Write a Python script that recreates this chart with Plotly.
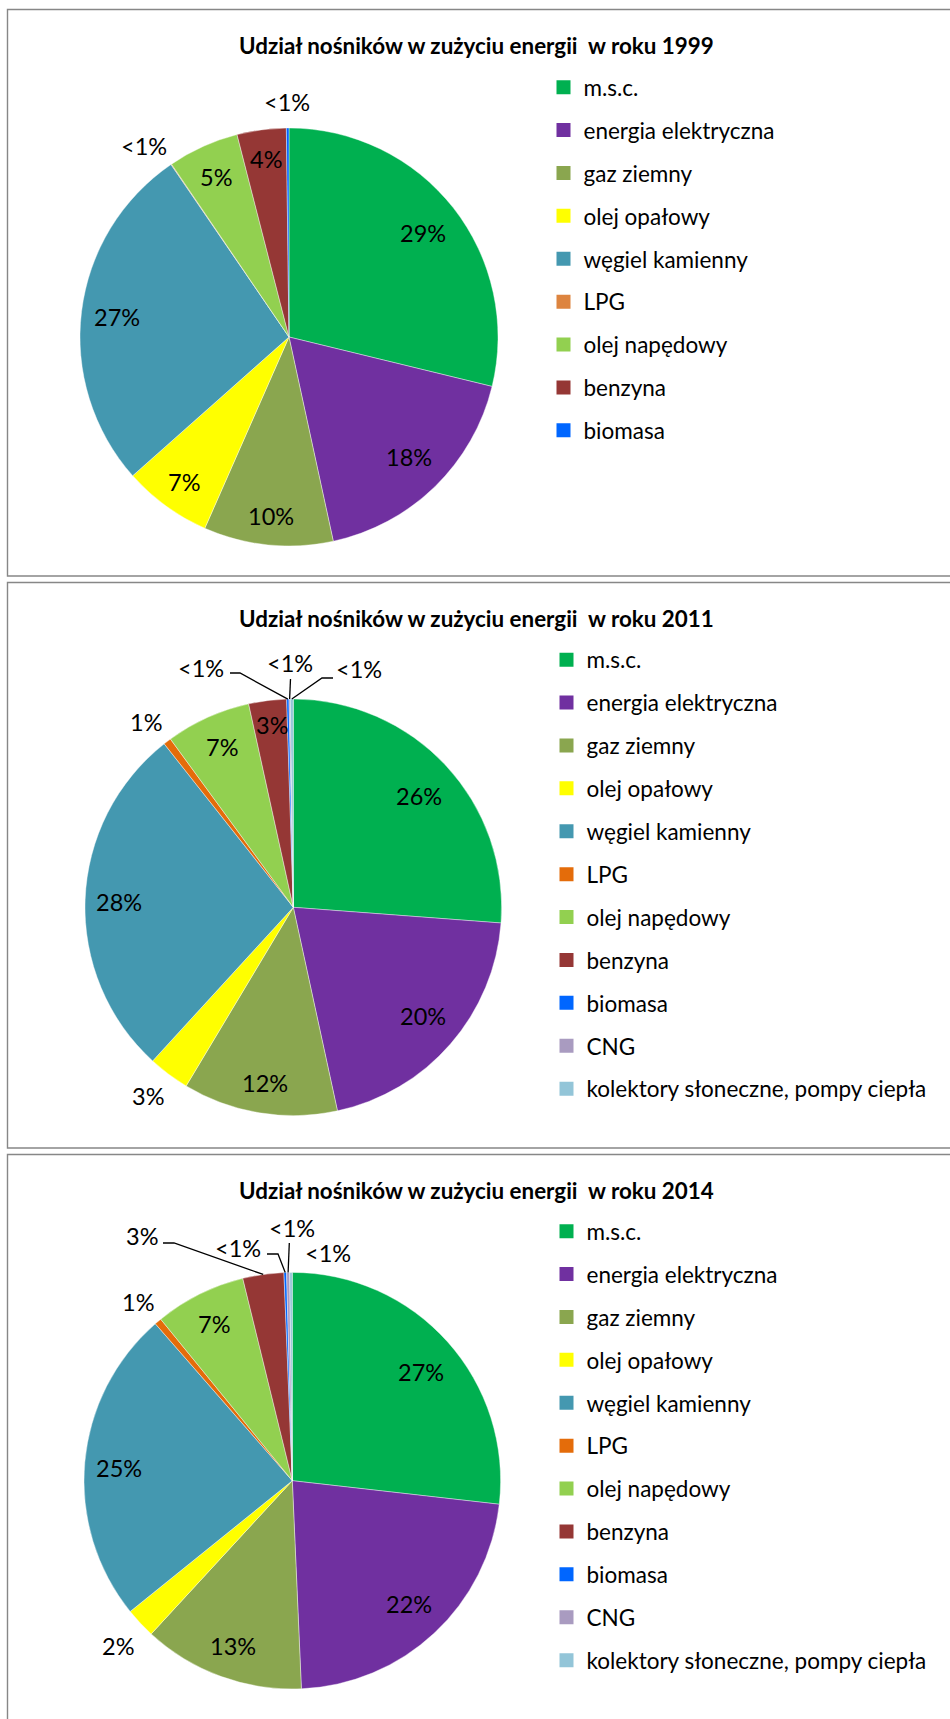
import math
import plotly.graph_objects as go

W, H = 950, 1719
FONT = "Lato"

# --- data -------------------------------------------------------------
carriers_1999 = ["m.s.c.", "energia elektryczna", "gaz ziemny", "olej opałowy",
                 "węgiel kamienny", "LPG", "olej napędowy", "benzyna", "biomasa"]
shares_1999 = [28.8, 17.8, 10.0, 6.85, 27.0, 0.05, 5.5, 3.8, 0.2]
labels_1999 = ["29%", "18%", "10%", "7%", "27%", "<1%", "5%", "4%", "<1%"]

carriers_2011 = carriers_1999 + ["CNG", "kolektory słoneczne, pompy ciepła"]
shares_2011 = [26.2, 20.4, 12.0, 3.2, 27.56, 0.6, 6.6, 2.93, 0.18, 0.1, 0.23]
labels_2011 = ["26%", "20%", "12%", "3%", "28%", "1%", "7%", "3%", "<1%", "<1%", "<1%"]

carriers_2014 = carriers_2011
shares_2014 = [26.8, 22.5, 12.54, 2.35, 24.38, 0.54, 7.06, 3.18, 0.2, 0.24, 0.2]
labels_2014 = ["27%", "22%", "13%", "2%", "25%", "1%", "7%", "3%", "<1%", "<1%", "<1%"]

colors_1999 = ["#00B050", "#7030A0", "#8AA64F", "#FFFF00", "#4498B0",
               "#DD843F", "#92D050", "#953735", "#0066FF"]
colors_new = ["#00B050", "#7030A0", "#8AA64F", "#FFFF00", "#4498B0",
              "#E46C0A", "#92D050", "#953735", "#0066FF", "#A99BC0", "#93C5D8"]

# --- layout of the three panels (pixels) -------------------------------
panels = [
    dict(year=1999, carriers=carriers_1999, shares=shares_1999, texts=labels_1999,
         colors=colors_1999, box=(7.5, 9.5, 960, 576), title_y=46,
         center=(289, 337), r=209, legend_top=66, legend_x=543.5,
         label_pos=[(423, 233), (409, 457), (271, 516), (184, 482), (117, 317),
                    (144, 146), (216, 177), (266, 159), (287, 102)],
         leaders={}),
    dict(year=2011, carriers=carriers_2011, shares=shares_2011, texts=labels_2011,
         colors=colors_new, box=(7.5, 582.5, 960, 1148), title_y=618,
         center=(293.3, 907.3), r=208.3, legend_top=638.5, legend_x=546.5,
         label_pos=[(419, 796), (423, 1016), (265, 1083), (148, 1096), (119, 902),
                    (146, 722), (222, 747), (272, 725), (201, 668), (290, 663), (359, 669)],
         leaders={8: [(230, 673), (240, 673)], 9: [(290.5, 679)],
                  10: [(333, 678), (322, 678)]}),
    dict(year=2014, carriers=carriers_2014, shares=shares_2014, texts=labels_2014,
         colors=colors_new, box=(7.5, 1154.5, 960, 1730), title_y=1190,
         center=(292.3, 1480.7), r=208.3, legend_top=1210, legend_x=546.5,
         label_pos=[(421, 1372), (409, 1604), (233, 1646), (118, 1646), (119, 1468),
                    (138, 1302), (214, 1324), (142, 1236), (238, 1248), (292, 1228), (328, 1253)],
         leaders={7: [(163, 1243), (174, 1243)], 8: [(267, 1254), (278, 1254)],
                  9: [(289.3, 1243)]}),
]


def px(x):
    return x / W


def py(y):
    return 1 - y / H


fig = go.Figure()
shapes, annotations = [], []
legend_names = ["legend", "legend2", "legend3"]
legends = {}

for k, p in enumerate(panels):
    cx, cy = p["center"]
    r = p["r"]
    fig.add_trace(go.Pie(
        labels=p["carriers"], values=p["shares"], sort=False,
        direction="clockwise", rotation=0,
        marker=dict(colors=p["colors"], line=dict(color="white", width=0.4)),
        textinfo="none", showlegend=False,
        domain=dict(x=[px(cx - r), px(cx + r)], y=[py(cy + r), py(cy - r)]),
    ))

    # legend entries (one group per carrier so the spacing can be set)
    for i, (name, col) in enumerate(zip(p["carriers"], p["colors"])):
        fig.add_trace(go.Scatter(
            x=[None], y=[None], mode="markers", name=name,
            marker=dict(symbol="square", size=14, color=col),
            legend=legend_names[k], legendgroup=f"{p['year']}-{i}",
        ))
    legends[legend_names[k]] = dict(
        x=px(p["legend_x"]), y=py(p["legend_top"]),
        font=dict(family=FONT, size=22.5, color="black"),
        xanchor="left", yanchor="top", bgcolor="rgba(0,0,0,0)",
        tracegroupgap=10.65, itemclick=False, itemdoubleclick=False)

    x0, y0, x1, y1 = p["box"]
    shapes.append(dict(type="rect", xref="paper", yref="paper",
                       x0=px(x0), x1=px(x1), y0=py(y0), y1=py(y1),
                       line=dict(color="#878787", width=1.4)))

    annotations.append(dict(
        text=f"<b>Udział nośników w zużyciu energii \u00a0w roku {p['year']}</b>",
        xref="paper", yref="paper", x=px(476), y=py(p["title_y"]),
        xanchor="center", yanchor="middle", showarrow=False,
        font=dict(family=FONT, size=22.4, color="black"),
    ))

    # data labels
    total = sum(p["shares"])
    cum = 0
    for i, (val, txt) in enumerate(zip(p["shares"], p["texts"])):
        mid = (cum + val / 2) / total * 2 * math.pi
        cum += val
        lx, ly = p["label_pos"][i]
        annotations.append(dict(text=txt, xref="paper", yref="paper",
                                x=px(lx), y=py(ly), xanchor="center", yanchor="middle",
                                showarrow=False,
                                font=dict(family=FONT, size=23.5, color="black")))
        if i in p["leaders"]:
            pts = p["leaders"][i] + [(cx + r * math.sin(mid), cy - r * math.cos(mid))]
            path = "M " + " L ".join(f"{px(a)},{py(b)}" for a, b in pts)
            shapes.append(dict(type="path", xref="paper", yref="paper", path=path,
                               line=dict(color="black", width=1.3)))

fig.update_layout(
    width=W, height=H, margin=dict(l=0, r=0, t=0, b=0),
    paper_bgcolor="white", plot_bgcolor="white",
    xaxis=dict(visible=False), yaxis=dict(visible=False),
    shapes=shapes, annotations=annotations,
    **legends,
)

fig.write_html("out.html", config={"displayModeBar": False},
               post_script="document.body.style.margin='0';")
